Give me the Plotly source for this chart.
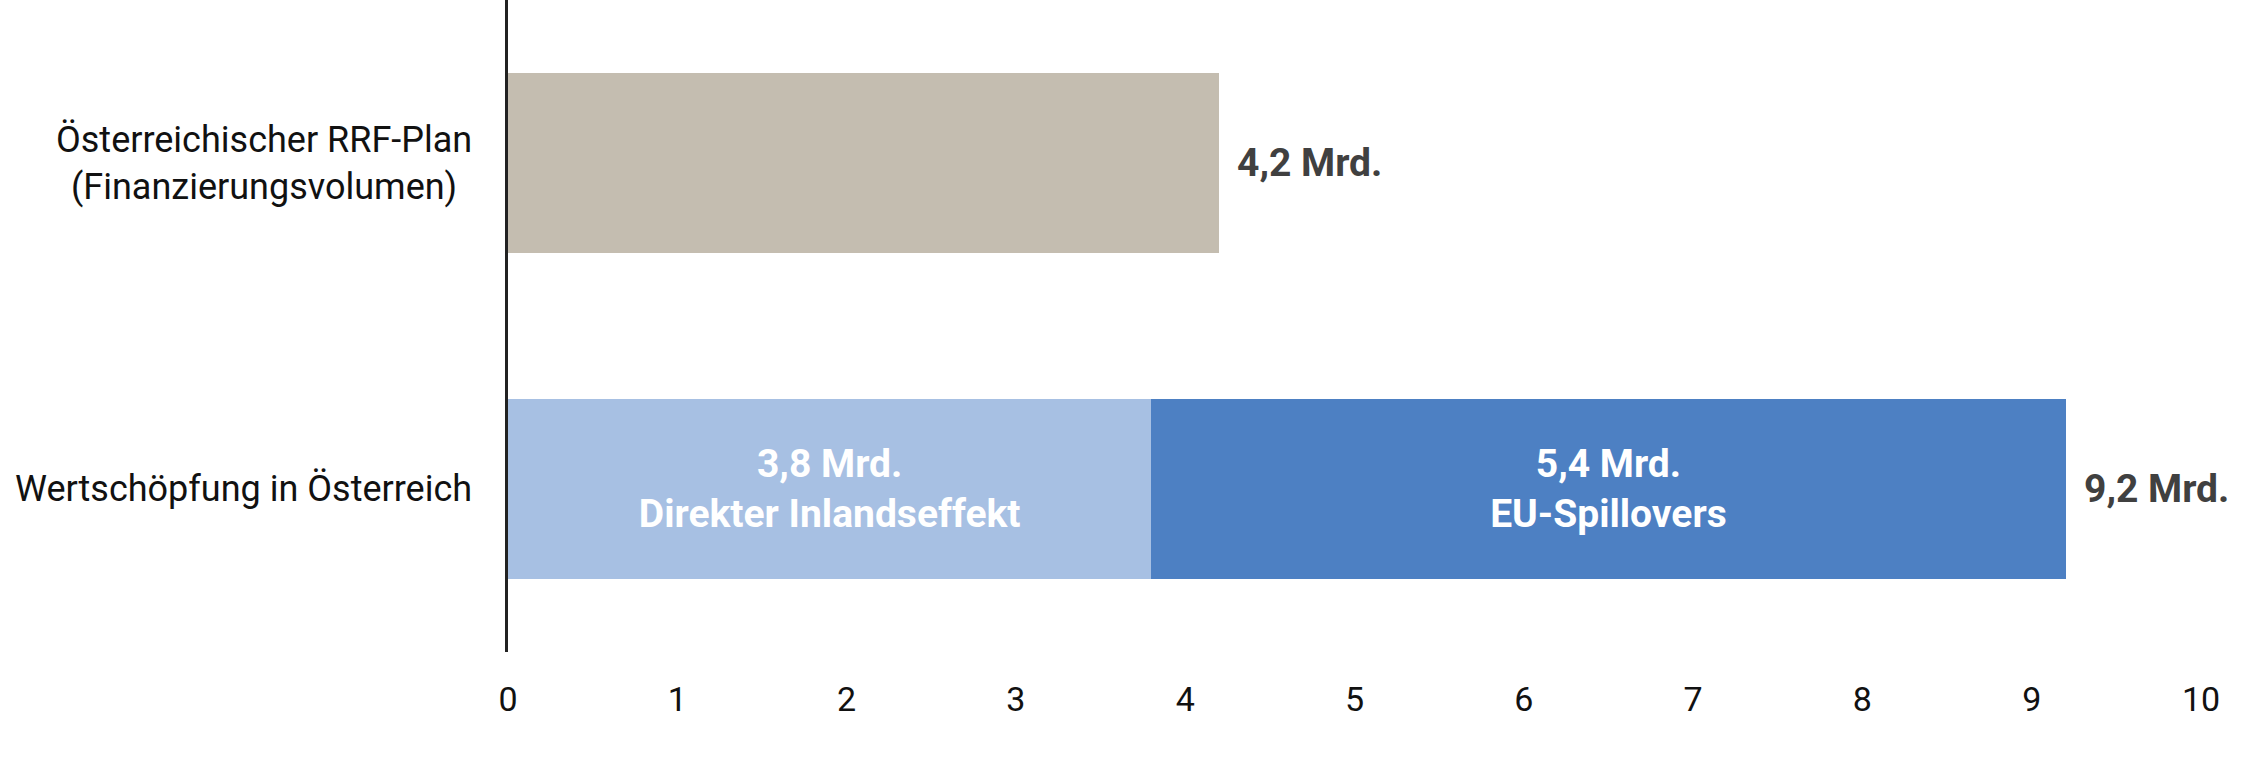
import plotly.graph_objects as go

# Werte in Mrd. Euro
categories = ["Wertschöpfung in Österreich", "Österreichischer RRF-Plan<br>(Finanzierungsvolumen)"]
inland = [3.8, None]
spillover = [5.4, None]
rrf_plan = [None, 4.2]
totals = [9.2, 4.2]
total_labels = ["9,2 Mrd.", "4,2 Mrd."]
inland_text = ["3,8 Mrd.<br>Direkter Inlandseffekt", ""]
spillover_text = ["5,4 Mrd.<br>EU-Spillovers", ""]
ticks = list(range(0, 11))

font_family = "Roboto, 'DejaVu Sans', sans-serif"

fig = go.Figure()

fig.add_trace(go.Bar(
    y=categories, x=rrf_plan, orientation="h",
    marker=dict(color="#C4BDB0", line=dict(width=0)),
    hoverinfo="skip",
))
fig.add_trace(go.Bar(
    y=categories, x=inland, orientation="h",
    marker=dict(color="#A7C0E3", line=dict(width=0)),
    text=inland_text, textposition="inside", insidetextanchor="middle",
    textfont=dict(color="white", size=39, family=font_family, weight="bold"),
    constraintext="none",
))
fig.add_trace(go.Bar(
    y=categories, x=spillover, orientation="h",
    marker=dict(color="#4D80C3", line=dict(width=0)),
    text=spillover_text, textposition="inside", insidetextanchor="middle",
    textfont=dict(color="white", size=39, family=font_family, weight="bold"),
    constraintext="none",
))

# Summen rechts neben den Balken
for cat, tot, lab in zip(categories, totals, total_labels):
    fig.add_annotation(
        x=tot, y=cat, text=lab, showarrow=False,
        xanchor="left", xshift=16,
        font=dict(size=39, color="#404040", family=font_family, weight="bold"),
    )

# Kategorienbeschriftung (zentriert, mehrzeilig)
for cat in categories:
    fig.add_annotation(
        x=0, xref="paper", y=cat, text=cat, showarrow=False,
        xanchor="right", xshift=-34, align="center",
        font=dict(size=36, color="#111111", family=font_family),
    )

fig.update_layout(
    width=2252, height=773,
    barmode="stack", bargap=0.447,
    showlegend=False,
    plot_bgcolor="white", paper_bgcolor="white",
    margin=dict(l=508, r=51, t=0, b=121),
    font=dict(family=font_family, size=34, color="#111111"),
    xaxis=dict(
        range=[0, 10], tickvals=ticks, showgrid=False, zeroline=False,
        showline=False, ticks="", ticklabelstandoff=24,
        tickfont=dict(size=34, color="#111111"),
    ),
    yaxis=dict(
        showticklabels=False, showgrid=False, zeroline=False,
        showline=True, linecolor="#222222", linewidth=3,
        range=[-0.5, 1.5],
    ),
)

fig.write_html("out.html", config={"displayModeBar": False},
               post_script="document.body.style.margin='0';")
